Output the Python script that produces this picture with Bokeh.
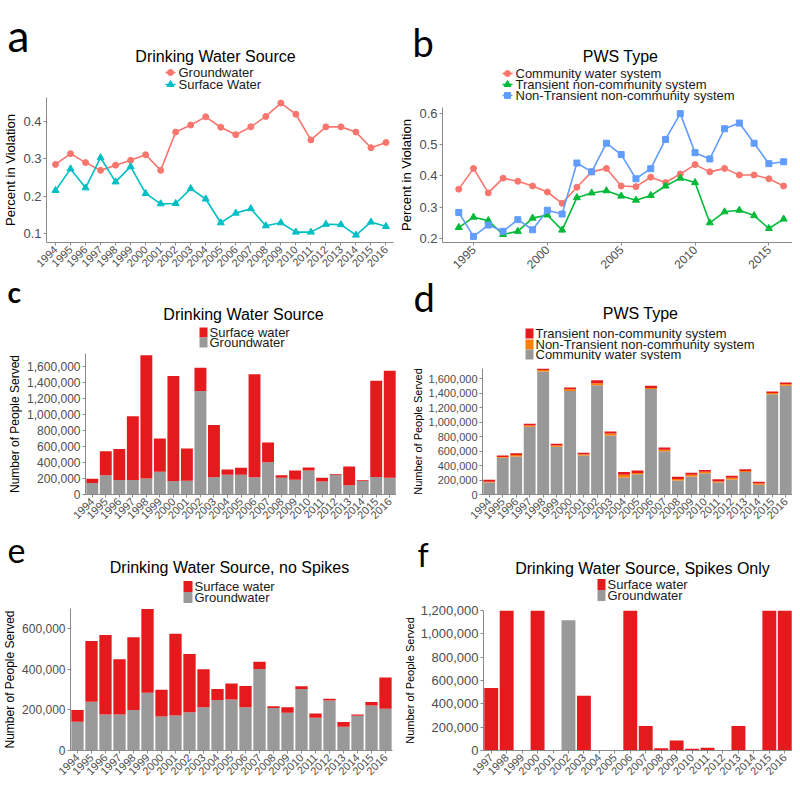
import math
from bokeh.plotting import figure
from bokeh.models import (Label, FixedTicker, NumeralTickFormatter,
                          FactorRange, Range1d, ColumnDataSource)
from bokeh.layouts import column, row
from bokeh.embed import file_html
from bokeh.resources import INLINE

FONT = "Liberation Sans"
LETTER_FONT = "Lato"
AXIS_COLOR = "#8a8a8a"
TICK_TEXT = "#4d4d4d"
RED_GG = "#F8766D"
TEAL_GG = "#00BFC4"
GREEN_GG = "#00BA38"
BLUE_GG = "#619CFF"
BAR_RED = "#E41A1C"
BAR_GRAY = "#999999"
BAR_ORANGE = "#FF7F00"

# ---------------- data ----------------
years = [1994, 1995, 1996, 1997, 1998, 1999, 2000, 2001, 2002, 2003, 2004, 2005,
         2006, 2007, 2008, 2009, 2010, 2011, 2012, 2013, 2014, 2015, 2016]
year_labels = [str(y) for y in years]

groundwater_pct = [0.285, 0.314, 0.290, 0.269, 0.283, 0.296, 0.311, 0.269, 0.372, 0.391, 0.413, 0.385,
                   0.365, 0.386, 0.414, 0.450, 0.420, 0.351, 0.386, 0.386, 0.372, 0.330, 0.344]
surface_pct = [0.215, 0.273, 0.222, 0.303, 0.238, 0.279, 0.207, 0.179, 0.180, 0.220, 0.192, 0.128,
               0.154, 0.166, 0.120, 0.128, 0.103, 0.103, 0.124, 0.123, 0.095, 0.130, 0.118]

cws_pct = [0.358, 0.424, 0.346, 0.393, 0.383, 0.368, 0.349, 0.313, 0.364, 0.413, 0.424, 0.368,
           0.366, 0.396, 0.379, 0.406, 0.436, 0.413, 0.424, 0.403, 0.403, 0.391, 0.368]
tnc_pct = [0.236, 0.269, 0.258, 0.214, 0.224, 0.266, 0.276, 0.228, 0.331, 0.346, 0.353, 0.336,
           0.323, 0.338, 0.368, 0.393, 0.379, 0.251, 0.286, 0.291, 0.274, 0.233, 0.263]
ntnc_pct = [0.284, 0.208, 0.244, 0.224, 0.261, 0.229, 0.291, 0.279, 0.441, 0.413, 0.504, 0.468,
            0.391, 0.423, 0.516, 0.598, 0.474, 0.454, 0.550, 0.568, 0.504, 0.439, 0.445]

c_ground = [143000, 240000, 180000, 180000, 199000, 285000, 169000, 173000, 1292000, 214000, 248000, 248000,
            214000, 402000, 210000, 184000, 300000, 161000, 248000, 116000, 173000, 218000, 210000]
c_surface = [55000, 301000, 387000, 797000, 1540000, 414000, 1311000, 402000, 289000, 654000, 64000, 86000,
             1288000, 248000, 30000, 116000, 38000, 49000, 7000, 233000, 7000, 1202000, 1334000]

d_cws = [165000, 507000, 524000, 936000, 1699000, 660000, 1431000, 540000, 1509000, 816000, 235000, 280000,
         1456000, 598000, 194000, 247000, 293000, 165000, 206000, 309000, 136000, 1386000, 1501000]
d_ntnc = [12000, 12000, 21000, 16000, 21000, 16000, 21000, 16000, 29000, 25000, 37000, 16000,
          16000, 21000, 21000, 25000, 21000, 16000, 25000, 16000, 16000, 16000, 21000]
d_tnc = [25000, 21000, 25000, 25000, 21000, 25000, 25000, 21000, 41000, 29000, 37000, 37000,
         29000, 29000, 29000, 29000, 25000, 29000, 29000, 25000, 25000, 21000, 25000]

e_ground = [142000, 240000, 177000, 177000, 200000, 285000, 168000, 173000, 189000, 213000, 249000, 252000,
            213000, 402000, 209000, 186000, 303000, 162000, 246000, 117000, 171000, 222000, 206000]
e_surface = [58000, 300000, 392000, 273000, 358000, 413000, 131000, 402000, 287000, 187000, 54000, 78000,
             105000, 35000, 9000, 27000, 14000, 21000, 9000, 23000, 6000, 17000, 154000]

f_labels = ["1997", "1998", "1999", "2000", "2001", "2002", "2003", "2004", "2005", "2006",
            "2007", "2008", "2009", "2010", "2011", "2012", "2013", "2014", "2015", "2016"]
f_surface = [536000, 1200000, 0, 1200000, 0, 0, 469000, 0, 0, 1200000,
             211000, 19000, 85000, 16000, 24000, 0, 211000, 0, 1200000, 1200000]
f_ground = [0, 0, 0, 0, 0, 1117000, 0, 0, 0, 0,
            0, 0, 0, 0, 0, 0, 0, 0, 0, 0]

PANEL_W = 396


# ---------------- helpers ----------------
class Header:
    """Blank figure above a panel; coordinates are pixels from its top-left corner."""

    def __init__(self, h):
        self.h = h
        p = figure(width=PANEL_W, height=h, x_range=Range1d(0, PANEL_W), y_range=Range1d(0, h),
                   x_axis_location=None, y_axis_location=None, title=None,
                   min_border_left=0, min_border_right=0, min_border_top=0, min_border_bottom=0,
                   output_backend="svg", toolbar_location=None)
        p.outline_line_color = None
        p.background_fill_color = "white"
        p.border_fill_color = "white"
        for g in p.grid:
            g.visible = False
        p.xgrid.grid_line_color = None
        p.ygrid.grid_line_color = None
        self.p = p

    def letter(self, text, x, yc, size, bold=False):
        self.p.add_layout(Label(x=x, y=self.h - yc, text=text, text_font=LETTER_FONT,
                                text_font_size=f"{size}px", text_font_style="bold" if bold else "normal",
                                text_color="#000000", text_baseline="middle"))

    def title(self, text, cx, yc):
        self.p.add_layout(Label(x=cx, y=self.h - yc, text=text, text_font=FONT, text_font_size="16px",
                                text_color="#000000", text_align="center", text_baseline="middle"))

    def key_text(self, text, x, yc):
        self.p.add_layout(Label(x=x, y=self.h - yc, text=text, text_font=FONT, text_font_size="13px",
                                text_color="#1a1a1a", text_baseline="middle"))

    def line_keys(self, x0, rows, labels, colors, markers, sizes):
        for yc, lab, col, mk, sz in zip(rows, labels, colors, markers, sizes):
            y = self.h - yc
            self.p.segment(x0=[x0], y0=[y], x1=[x0 + 10], y1=[y], line_color=col, line_width=1.6)
            self.p.scatter(x=[x0 + 5], y=[y], marker=mk, size=sz, color=col)
            self.key_text(lab, x0 + 13, yc)

    def bar_keys(self, x0, w, hgt, rows, labels, colors):
        for yc, lab, col in zip(rows, labels, colors):
            self.p.rect(x=[x0 + w / 2], y=[self.h - yc], width=w, height=hgt, color=col, line_color=None)
            self.key_text(lab, x0 + w + 2, yc)


def base_fig(h, left, right, top, bottom, x_range, y_range):
    p = figure(width=PANEL_W, height=h, x_range=x_range, y_range=y_range, title=None,
               min_border_left=left, min_border_right=right,
               min_border_top=top, min_border_bottom=bottom,
               output_backend="svg", toolbar_location=None)
    p.grid.visible = False
    p.outline_line_color = None
    p.background_fill_color = "white"
    p.border_fill_color = "white"
    for ax in list(p.xaxis) + list(p.yaxis):
        ax.axis_line_color = AXIS_COLOR
        ax.major_tick_line_color = AXIS_COLOR
        ax.major_tick_out = 3
        ax.major_tick_in = 0
        ax.minor_tick_line_color = None
        ax.major_label_text_color = TICK_TEXT
        ax.major_label_text_font = FONT
        ax.major_label_standoff = 2
        ax.axis_label_text_font = FONT
        ax.axis_label_text_font_style = "normal"
        ax.axis_label_text_color = "#000000"
        ax.axis_label_text_font_size = "13px"
        ax.axis_label_standoff = 2
    return p


# ---------------- panel a ----------------
ha = Header(93)
ha.letter("a", 7, 34, 44)
ha.title("Drinking Water Source", 215, 56)
ha.line_keys(165, [72, 84], ["Groundwater", "Surface Water"], [RED_GG, TEAL_GG],
             ["circle", "triangle"], [6, 7])
pa = base_fig(183, 44, 3, 4, 34, Range1d(1993.4, 2016.5), Range1d(0.075, 0.465))
pa.line(years, groundwater_pct, line_color=RED_GG, line_width=1.6)
pa.scatter(years, groundwater_pct, marker="circle", size=6, color=RED_GG)
pa.line(years, surface_pct, line_color=TEAL_GG, line_width=1.6)
pa.scatter(years, surface_pct, marker="triangle", size=7, color=TEAL_GG)
pa.yaxis.ticker = FixedTicker(ticks=[0.1, 0.2, 0.3, 0.4])
pa.yaxis.axis_label = "Percent in Violation"
pa.yaxis.major_label_text_font_size = "13px"
pa.xaxis.ticker = FixedTicker(ticks=years)
pa.xaxis.major_label_orientation = math.pi / 4
pa.xaxis.major_label_text_font_size = "11px"

# ---------------- panel b ----------------
hb = Header(103)
hb.letter("b", 16, 41, 38)
hb.title("PWS Type", 224, 56)
hb.line_keys(106, [73, 84, 95],
             ["Community water system", "Transient non-community system", "Non-Transient non-community system"],
             [RED_GG, GREEN_GG, BLUE_GG], ["circle", "triangle", "square"], [6, 7, 6])
pb = base_fig(173, 46, 0, 4, 34, Range1d(1992.9, 2016.6), Range1d(0.1885, 0.6175))
pb.line(years, cws_pct, line_color=RED_GG, line_width=1.6)
pb.scatter(years, cws_pct, marker="circle", size=6, color=RED_GG)
pb.line(years, tnc_pct, line_color=GREEN_GG, line_width=1.6)
pb.scatter(years, tnc_pct, marker="triangle", size=7, color=GREEN_GG)
pb.line(years, ntnc_pct, line_color=BLUE_GG, line_width=1.6)
pb.scatter(years, ntnc_pct, marker="square", size=6, color=BLUE_GG)
pb.yaxis.ticker = FixedTicker(ticks=[0.2, 0.3, 0.4, 0.5, 0.6])
pb.yaxis.axis_label = "Percent in Violation"
pb.yaxis.major_label_text_font_size = "13px"
pb.xaxis.ticker = FixedTicker(ticks=[1995, 2000, 2005, 2010, 2015])
pb.xaxis.major_label_orientation = math.pi / 4
pb.xaxis.major_label_text_font_size = "12px"

# ---------------- panel c ----------------
hc = Header(73)
hc.letter("c", 7, 15, 28, bold=True)
hc.title("Drinking Water Source", 243, 38)
hc.bar_keys(199, 8, 10, [56, 66], ["Surface water", "Groundwater"], [BAR_RED, BAR_GRAY])
pc = base_fig(179, 85, 0, 4, 34, FactorRange(factors=year_labels), Range1d(0, 1760000))
src_c = ColumnDataSource(dict(year=year_labels, ground=c_ground, surface=c_surface))
pc.vbar_stack(["ground", "surface"], x="year", width=0.88, color=[BAR_GRAY, BAR_RED],
              line_color=None, source=src_c)
pc.yaxis.ticker = FixedTicker(ticks=[0, 200000, 400000, 600000, 800000, 1000000, 1200000, 1400000, 1600000])
pc.yaxis.formatter = NumeralTickFormatter(format="0,0")
pc.yaxis.axis_label = "Number of People Served"
pc.yaxis.axis_label_text_font_size = "12px"
pc.yaxis.major_label_text_font_size = "12px"
pc.xaxis.major_label_orientation = math.pi / 4
pc.xaxis.major_label_text_font_size = "11px"

# ---------------- panel d ----------------
hd = Header(84)
hd.letter("d", 17, 20, 38)
hd.title("PWS Type", 244, 37)
hd.bar_keys(129, 8, 10, [57, 68, 78],
            ["Transient non-community system", "Non-Transient non-community system", "Community water system"],
            [BAR_RED, BAR_ORANGE, BAR_GRAY])
pd_ = base_fig(168, 86, 0, 8, 34, FactorRange(factors=year_labels), Range1d(0, 1740000))
src_d = ColumnDataSource(dict(year=year_labels, cws=d_cws, ntnc=d_ntnc, tnc=d_tnc))
pd_.vbar_stack(["cws", "ntnc", "tnc"], x="year", width=0.88,
               color=[BAR_GRAY, BAR_ORANGE, BAR_RED], line_color=None, source=src_d)
pd_.yaxis.ticker = FixedTicker(ticks=[0, 200000, 400000, 600000, 800000, 1000000, 1200000, 1400000, 1600000])
pd_.yaxis.formatter = NumeralTickFormatter(format="0,0")
pd_.yaxis.axis_label = "Number of People Served"
pd_.yaxis.axis_label_text_font_size = "11px"
pd_.yaxis.major_label_text_font_size = "11px"
pd_.xaxis.major_label_orientation = math.pi / 4
pd_.xaxis.major_label_text_font_size = "11px"

# ---------------- panel e ----------------
he = Header(76)
he.letter("e", 7, 22, 34)
he.title("Drinking Water Source, no Spikes", 229, 39)
he.bar_keys(183, 9, 11, [58, 69], ["Surface water", "Groundwater"], [BAR_RED, BAR_GRAY])
pe = base_fig(180, 68, 4, 4, 34, FactorRange(factors=year_labels), Range1d(0, 700000))
src_e = ColumnDataSource(dict(year=year_labels, ground=e_ground, surface=e_surface))
pe.vbar_stack(["ground", "surface"], x="year", width=0.88, color=[BAR_GRAY, BAR_RED],
              line_color=None, source=src_e)
pe.yaxis.ticker = FixedTicker(ticks=[0, 200000, 400000, 600000])
pe.yaxis.formatter = NumeralTickFormatter(format="0,0")
pe.yaxis.axis_label = "Number of People Served"
pe.yaxis.axis_label_text_font_size = "12px"
pe.yaxis.major_label_text_font_size = "12px"
pe.xaxis.major_label_orientation = math.pi / 4
pe.xaxis.major_label_text_font_size = "11px"

# ---------------- panel f ----------------
hf = Header(74)
hf.letter("f", 21, 26, 32)
hf.title("Drinking Water Source, Spikes Only", 246, 40)
hf.bar_keys(201, 8, 11, [56, 67], ["Surface water", "Groundwater"], [BAR_RED, BAR_GRAY])
pf = base_fig(182, 87, 0, 8, 34, FactorRange(factors=f_labels), Range1d(0, 1200000))
src_f = ColumnDataSource(dict(year=f_labels, ground=f_ground, surface=f_surface))
pf.vbar_stack(["ground", "surface"], x="year", width=0.9, color=[BAR_GRAY, BAR_RED],
              line_color=None, source=src_f)
pf.yaxis.ticker = FixedTicker(ticks=[0, 200000, 400000, 600000, 800000, 1000000, 1200000])
pf.yaxis.formatter = NumeralTickFormatter(format="0,0")
pf.yaxis.axis_label = "Number of People Served"
pf.yaxis.axis_label_text_font_size = "11px"
pf.yaxis.major_label_text_font_size = "13px"
pf.xaxis.major_label_orientation = math.pi / 4
pf.xaxis.major_label_text_font_size = "11px"

layout = column(row(column(row(ha.p), pa), column(row(hb.p), pb)),
                row(column(row(hc.p), pc), column(row(hd.p), pd_)),
                row(column(row(he.p), pe), column(row(hf.p), pf)))

with open("out.html", "w") as fh:
    fh.write(file_html(layout, INLINE))
